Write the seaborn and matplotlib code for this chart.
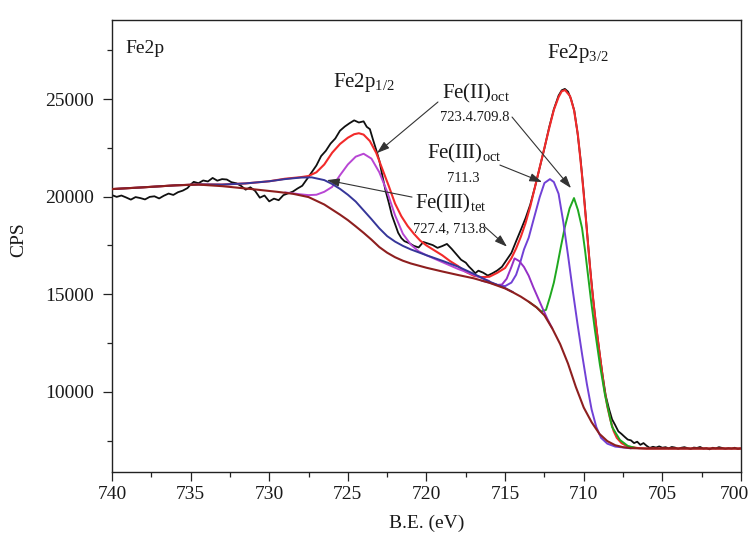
import matplotlib
matplotlib.use("Agg")
import matplotlib.pyplot as plt
import matplotlib.transforms as mtransforms
import seaborn as sns
import pandas as pd

# ---- measured Fe 2p spectrum (binding energy in eV, counts per second) ----
be_scan = [740.0, 739.7, 739.4, 739.1, 738.8, 738.5, 738.2, 737.9, 737.6, 737.3,
           737.0, 736.7, 736.4, 736.1, 735.8, 735.5, 735.2, 735.0, 734.8, 734.5,
           734.2, 733.9, 733.6, 733.3, 733.0, 732.7, 732.4, 732.1, 731.8, 731.5,
           731.2, 730.9, 730.6, 730.3, 730.0, 729.7, 729.4, 729.1, 728.8, 728.5,
           728.2, 727.9, 727.6, 727.3, 727.0, 726.7, 726.4, 726.1, 725.8, 725.5,
           725.2, 724.9, 724.6, 724.3, 724.0, 723.8, 723.6, 723.4, 723.2, 723.0,
           722.8, 722.6, 722.4, 722.2, 722.0, 721.8, 721.6, 721.4, 721.1, 720.8,
           720.5, 720.2, 719.9, 719.6, 719.3, 719.0, 718.7, 718.4, 718.1, 717.8,
           717.5, 717.3, 717.1, 716.9, 716.7, 716.4, 716.1, 715.8, 715.5, 715.2,
           714.9, 714.6, 714.3, 714.0, 713.7, 713.4, 713.1, 712.8, 712.5, 712.2,
           711.9, 711.6, 711.4, 711.2, 711.0, 710.8, 710.6, 710.4, 710.2, 710.0,
           709.8, 709.6, 709.4, 709.2, 709.0, 708.8, 708.6, 708.4, 708.2, 708.0,
           707.8, 707.6, 707.4, 707.2, 707.0, 706.8, 706.6, 706.4, 706.2, 706.0,
           705.8, 705.6, 705.4, 705.2, 705.0, 704.8, 704.6, 704.4, 704.2, 704.0,
           703.8, 703.6, 703.4, 703.2, 703.0, 702.8, 702.6, 702.4, 702.2, 702.0,
           701.8, 701.6, 701.4, 701.2, 701.0, 700.8, 700.6, 700.4, 700.2, 700.0]
cps_scan = [20080, 19990, 20060, 19960, 19850, 19980, 19930, 19860, 19990, 20020,
            19910, 20050, 20160, 20090, 20230, 20310, 20440, 20620, 20760, 20690,
            20830, 20780, 20960, 20820, 20900, 20880, 20740, 20690, 20560, 20360,
            20480, 20300, 19950, 20060, 19760, 19900, 19820, 20080, 20170, 20260,
            20420, 20560, 20900, 21250, 21600, 22080, 22350, 22720, 22980, 23380,
            23590, 23760, 23910, 23800, 23860, 23580, 23460, 22920, 22400, 21850,
            21050, 20300, 19700, 19050, 18600, 18150, 17880, 17720, 17620, 17480,
            17400, 17680, 17600, 17520, 17380, 17470, 17580, 17330, 17050, 16770,
            16620, 16420, 16260, 16080, 16210, 16110, 15960, 16080, 16220, 16410,
            16760, 17120, 17720, 18300, 18900, 19600, 20500, 21500, 22480, 23550,
            24480, 25180, 25450, 25520, 25380, 24980, 24400, 23300, 21900, 20200,
            18300, 16400, 14750, 13300, 12050, 10850, 9800, 9150, 8600, 8300,
            7980, 7850, 7700, 7560, 7520, 7380, 7450, 7290, 7380, 7240,
            7130, 7190, 7150, 7210, 7140, 7170, 7110, 7180, 7150, 7090,
            7140, 7170, 7120, 7080, 7150, 7130, 7180, 7100, 7120, 7060,
            7140, 7110, 7170, 7130, 7090, 7120, 7100, 7140, 7080, 7110]

# ---- Shirley-type background ----
be_bg = [740.0, 738.0, 736.0, 734.5, 733.0, 731.0, 729.5, 728.5, 727.5, 726.5,
         725.5, 725.0, 724.5, 724.0, 723.5, 723.0, 722.5, 722.0, 721.5, 721.0,
         720.0, 719.0, 718.0, 717.0, 716.0, 715.0, 714.5, 714.0, 713.5, 713.0,
         712.5, 712.0, 711.5, 711.0, 710.5, 710.0, 709.5, 709.0, 708.5, 708.0,
         707.5, 707.0, 706.0, 700.0]
cps_bg = [20390, 20480, 20580, 20620, 20540, 20380, 20250, 20150, 19980, 19600,
          19080, 18800, 18480, 18150, 17800, 17420, 17130, 16900, 16720, 16580,
          16360, 16170, 15990, 15820, 15590, 15300, 15100, 14880, 14620, 14330,
          13920, 13250, 12450, 11450, 10250, 9200, 8450, 7850, 7480, 7270,
          7170, 7120, 7100, 7100]

# ---- fitted envelope ----
be_fit = [740.0, 738.0, 736.0, 734.5, 733.0, 731.5, 730.0, 729.0, 728.5, 728.0,
          727.5, 727.0, 726.5, 726.0, 725.5, 725.0, 724.6, 724.3, 724.0, 723.6,
          723.2, 722.8, 722.4, 722.0, 721.6, 721.2, 720.8, 720.4, 720.0, 719.5,
          719.0, 718.5, 718.0, 717.5, 717.0, 716.5, 716.0, 715.5, 715.0, 714.6,
          714.3, 714.0, 713.7, 713.4, 713.1, 712.8, 712.5, 712.2, 711.9, 711.6,
          711.4, 711.19, 710.87, 710.62, 710.37, 710.11, 709.9, 709.7, 709.5, 709.3,
          709.1, 708.9, 708.7, 708.5, 708.3, 708.1, 707.9, 707.6, 707.2, 706.5,
          706.0, 700.0]
cps_fit = [20390, 20480, 20580, 20630, 20620, 20680, 20790, 20920, 20960, 21000,
           21060, 21250, 21650, 22250, 22700, 23020, 23200, 23250, 23180, 22850,
           22250, 21400, 20550, 19650, 19000, 18500, 18100, 17750, 17500, 17250,
           17000, 16700, 16450, 16150, 15950, 15880, 15900, 16100, 16350, 16850,
           17350, 17950, 18650, 19500, 20500, 21500, 22500, 23500, 24450, 25100,
           25400, 25460, 25150, 24440, 23160, 21100, 19200, 17300, 15500, 14000,
           12650, 11400, 10200, 9250, 8550, 8000, 7650, 7380, 7200, 7120,
           7100, 7100]

# ---- Fe(III) tetrahedral, 2p1/2 component (727.4 eV) ----
be_tet12 = [740.0, 738.0, 736.0, 734.5, 733.0, 731.5, 730.0, 729.0, 728.0, 727.3,
            726.5, 726.0, 725.5, 725.0, 724.5, 724.0, 723.5, 723.0, 722.5, 722.0,
            721.5, 721.0, 720.0, 719.0, 718.0, 717.0, 716.0, 715.0, 714.5]
cps_tet12 = [20390, 20480, 20580, 20630, 20620, 20680, 20790, 20900, 20980, 20990,
             20850, 20650, 20400, 20100, 19750, 19300, 18850, 18380, 17980, 17700,
             17480, 17300, 17000, 16720, 16420, 16050, 15650, 15320, 15110]

# ---- Fe2p1/2 main component (~724 eV) ----
be_p12 = [729.0, 728.0, 727.5, 727.0, 726.5, 726.0, 725.5, 725.0, 724.5, 724.0,
          723.5, 723.0, 722.5, 722.0, 721.5, 721.0, 720.5, 720.0, 719.0, 718.0,
          717.0, 716.0]
cps_p12 = [20220, 20120, 20080, 20100, 20250, 20500, 21100, 21650, 22050, 22200,
           21950, 21250, 20250, 19050, 18100, 17550, 17200, 17000, 16650, 16300,
           16000, 15680]

# ---- Fe(III) tetrahedral, 2p3/2 component (713.8 eV) ----
be_tet32 = [716.0, 715.5, 715.2, 714.9, 714.6, 714.4, 714.1, 713.8, 713.5, 713.2,
            712.9, 712.6, 712.3, 712.0]
cps_tet32 = [15620, 15480, 15500, 15800, 16400, 16840, 16700, 16400, 15950, 15350,
             14800, 14250, 13720, 13250]

# ---- Fe(III) octahedral component (711.3 eV) ----
be_oct3 = [716.5, 716.0, 715.5, 715.0, 714.6, 714.3, 714.05, 713.8, 713.5, 713.2,
           712.8, 712.5, 712.15, 711.9, 711.6, 711.3, 711.0, 710.7, 710.4, 710.1,
           709.8, 709.5, 709.2, 708.9, 708.5, 708.0, 707.0]
cps_oct3 = [15700, 15600, 15480, 15420, 15600, 16000, 16600, 17300, 17900, 18800,
            19980, 20700, 20900, 20750, 20150, 18700, 17000, 15200, 13500, 11900,
            10400, 9100, 8200, 7650, 7350, 7200, 7110]

# ---- Fe(II) octahedral component (709.8 eV) ----
be_oct2 = [713.5, 713.0, 712.7, 712.4, 712.15, 711.9, 711.7, 711.45, 711.2, 710.9,
           710.62, 710.37, 710.11, 709.92, 709.73, 709.54, 709.29, 708.97, 708.65, 708.2,
           707.7, 707.19, 706.7]
cps_oct2 = [14620, 14330, 14120, 14200, 14860, 15600, 16400, 17450, 18450, 19400,
            19930, 19320, 18400, 17270, 15990, 14710, 13170, 11380, 9850, 8210,
            7540, 7230, 7130]

x_ticks = [740, 735, 730, 725, 720, 715, 710, 705, 700]
y_ticks = [10000, 15000, 20000, 25000]

sns.set_style("ticks")
serif = "Liberation Serif"
plt.rcParams["font.family"] = [serif, "DejaVu Serif"]
plt.rcParams["mathtext.fontset"] = "custom"
plt.rcParams["mathtext.rm"] = serif
plt.rcParams["mathtext.it"] = serif + ":italic"

fig = plt.figure(figsize=(7.5, 5.42), dpi=100)
ax = fig.add_axes([0.1493, 0.1292, 0.8387, 0.8339])

curves = [
    (be_scan, cps_scan, "#101010", 1.3, 2),
    (be_fit, cps_fit, "#f22a2a", 1.5, 3),
    (be_oct2, cps_oct2, "#1fa81f", 1.4, 4),
    (be_oct3, cps_oct3, "#7141d6", 1.4, 4),
    (be_tet32, cps_tet32, "#9530c6", 1.4, 4),
    (be_p12, cps_p12, "#b846d4", 1.4, 4),
    (be_tet12, cps_tet12, "#363699", 1.4, 5),
    (be_bg, cps_bg, "#8e1f1f", 1.5, 6),
]
for xs, ys, col, lw, z in curves:
    df = pd.DataFrame({"be": xs, "cps": ys})
    sns.lineplot(data=df, x="be", y="cps", color=col, linewidth=lw, sort=False,
                 estimator=None, ax=ax, zorder=z)

ax.set_xlim(740, 700)
ax.set_ylim(5900, 29050)
ax.set_xticks(x_ticks)
ax.set_xticks([737.5, 732.5, 727.5, 722.5, 717.5, 712.5, 707.5, 702.5], minor=True)
ax.set_yticks(y_ticks)
ax.set_yticks([7500, 12500, 17500, 22500, 27500], minor=True)
ax.set_xticklabels([str(v) for v in x_ticks])
ax.set_yticklabels([str(v) for v in y_ticks])
ax.tick_params(axis="both", which="major", direction="out", length=6.5, width=0.9,
               labelsize=14, colors="#222222", labelcolor="#1a1a1a")
ax.tick_params(axis="x", which="major", pad=3.5)
ax.tick_params(axis="y", which="major", pad=6.5)
ax.tick_params(axis="both", which="minor", direction="out", length=3.5, width=0.9,
               colors="#222222")
ax.tick_params(top=False, right=False, which="both")
for side in ["left", "right", "top", "bottom"]:
    ax.spines[side].set_visible(True)
    ax.spines[side].set_linewidth(1.0)
    ax.spines[side].set_color("#222222")

# keep the last energy label inside the figure
last = ax.get_xticklabels()[-1]
last.set_transform(last.get_transform() +
                   mtransforms.ScaledTranslation(-7 / 100, 0, fig.dpi_scale_trans))

ax.set_xlabel("B.E. (eV)", fontsize=14, color="#1a1a1a")
ax.set_ylabel("CPS", fontsize=14, color="#1a1a1a")
ax.xaxis.set_label_coords(0.5, -0.095)
ax.yaxis.set_label_coords(-0.135, 0.515)

# ---- peak labels ----
txt = dict(color="#1a1a1a")
ax.text(0.021, 0.955, "Fe2p", transform=ax.transAxes, fontsize=14, ha="left", va="top", **txt)
ax.text(710.37, 27100, r"Fe2p$_{\mathregular{3/2}}$", fontsize=15, ha="center", va="baseline", **txt)
ax.text(725.95, 25630, r"Fe2p$_{\mathregular{1/2}}$", fontsize=15, ha="left", va="baseline", **txt)
ax.text(719.0, 25040, r"Fe(II)$_{\mathregular{oct}}$", fontsize=15, ha="left", va="baseline", **txt)
ax.text(719.14, 23870, "723.4.709.8", fontsize=10.5, ha="left", va="baseline", **txt)
ax.text(719.97, 21960, r"Fe(III)$_{\mathregular{oct}}$", fontsize=15, ha="left", va="baseline", **txt)
ax.text(717.65, 20750, "711.3", fontsize=10.5, ha="center", va="baseline", **txt)
ax.text(720.73, 19400, r"Fe(III)$_{\mathregular{tet}}$", fontsize=15, ha="left", va="baseline", **txt)
ax.text(720.86, 18160, "727.4, 713.8", fontsize=10.5, ha="left", va="baseline", **txt)

# ---- arrows from labels to peaks ----
arrows = [
    ((723.15, 22235), (719.27, 24850)),
    ((710.81, 20440), (714.56, 24080)),
    ((712.65, 20750), (715.33, 21620)),
    ((726.33, 20850), (720.92, 19980)),
    ((714.88, 17440), (716.28, 18450)),
]
for tip, tail in arrows:
    ax.annotate("", xy=tip, xytext=tail,
                arrowprops=dict(arrowstyle="-|>,head_length=0.75,head_width=0.25",
                                color="#333333", lw=0.8, shrinkA=0, shrinkB=0),
                zorder=8)

fig.savefig("out.png", dpi=100)
